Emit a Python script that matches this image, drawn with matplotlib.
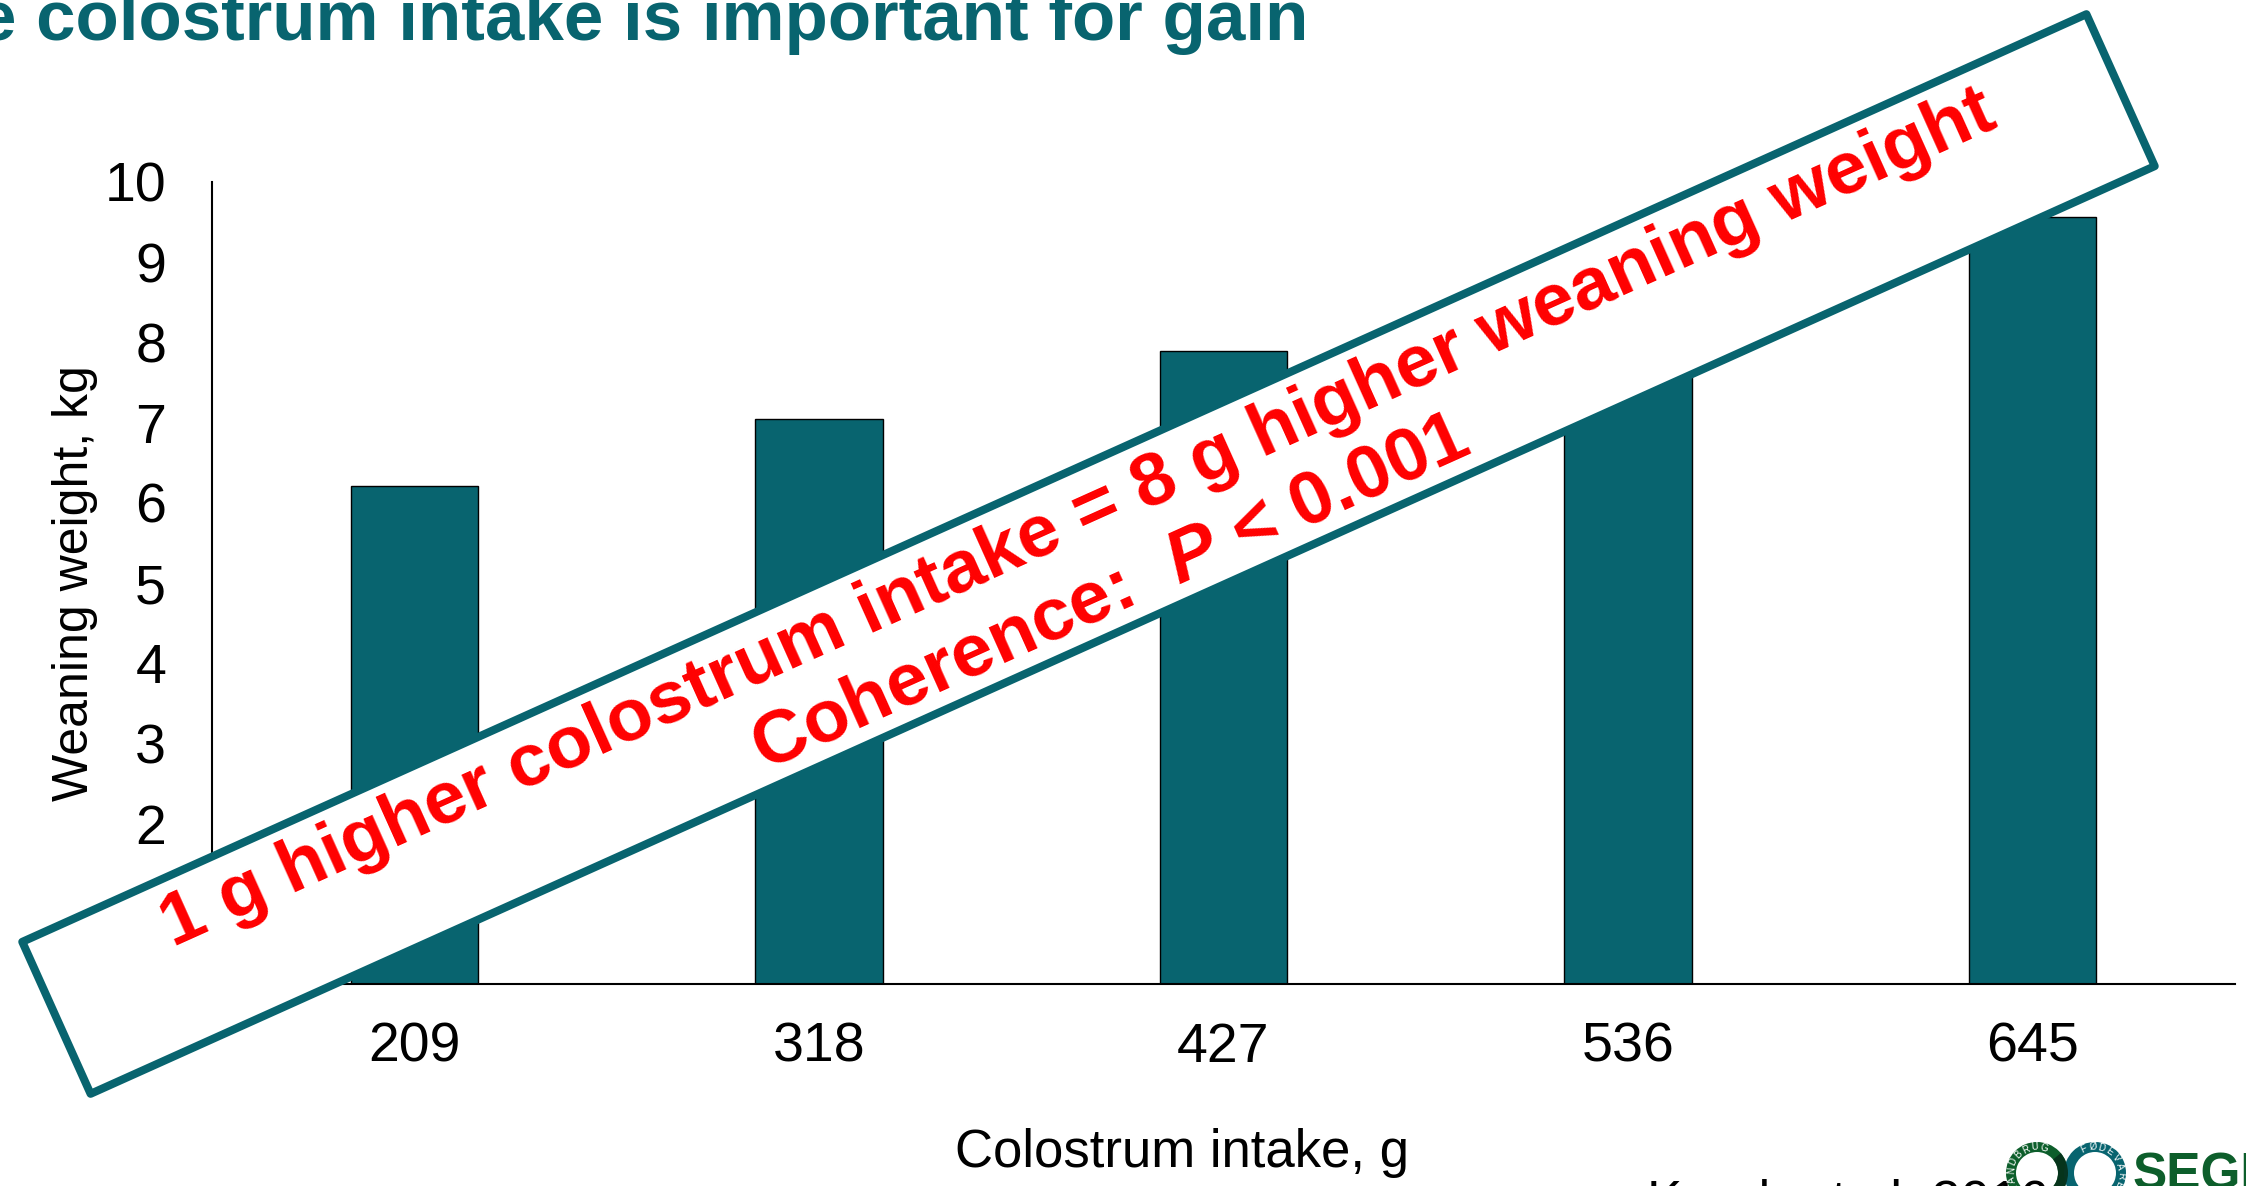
import numpy as np
import matplotlib
matplotlib.use("Agg")
import matplotlib.pyplot as plt
from matplotlib.patches import Polygon, Wedge

plt.rcParams['font.family'] = ['Liberation Sans', 'DejaVu Sans']
plt.rcParams['mathtext.fontset'] = 'custom'
plt.rcParams['mathtext.bfit'] = 'Liberation Sans:italic:bold'
plt.rcParams['mathtext.rm'] = 'Liberation Sans:bold'

# data
intake_labels = ["209", "318", "427", "536", "645"]
weaning_kg = [6.21, 7.05, 7.89, 8.72, 9.56]
y_ticks = list(range(0, 11))

teal = '#08646f'
W, H = 2246, 1186

fig = plt.figure(figsize=(W / 100, H / 100), dpi=100)
ax = fig.add_axes([212 / W, 1 - 984 / H, (2235 - 212) / W, (984 - 182) / H])
x = np.arange(len(intake_labels))
ax.bar(x, weaning_kg, width=0.315, color=teal, edgecolor='black', linewidth=1)
ax.set_xlim(-0.5, 4.5)
ax.set_ylim(0, 10)
ax.set_yticks(y_ticks)
ax.set_xticks(x)
ax.set_xticklabels(intake_labels)
for s in ['top', 'right']:
    ax.spines[s].set_visible(False)
for s in ['left', 'bottom']:
    ax.spines[s].set_linewidth(1.5)
ax.tick_params(axis='y', length=0, labelsize=40, pad=33)
ax.tick_params(axis='x', length=0, labelsize=40, pad=27)
ax.set_xlabel("Colostrum intake, g", fontsize=38, va='top')
ax.xaxis.set_label_coords((1182 - 212) / (2235 - 212), -0.180)
ax.set_ylabel("Weaning weight, kg", fontsize=36, va='center')
ax.yaxis.set_label_coords((75 - 212) / (2235 - 212), 0.5)

# overlay in pixel coordinates for the slide decorations
ov = fig.add_axes([0, 0, 1, 1], zorder=5)
ov.set_xlim(0, W)
ov.set_ylim(H, 0)
ov.axis('off')

ov.text(1308, 40, "e colostrum intake is important for gain", ha='right', va='baseline',
        fontsize=51, fontweight='bold', color=teal)

# rotated callout box
cx, cy, ang = 1088.5, 554, 24.2
u = np.array([np.cos(np.radians(ang)), -np.sin(np.radians(ang))])
n = np.array([np.sin(np.radians(ang)), np.cos(np.radians(ang))])
hl, hs = 1131.5, 83.3
c = np.array([cx, cy])
corners = [c - u * hl - n * hs, c + u * hl - n * hs, c + u * hl + n * hs, c - u * hl + n * hs]
ov.add_patch(Polygon(corners, closed=True, facecolor='white', edgecolor=teal, linewidth=5.8,
                     joinstyle='round'))
p1 = c + u * 5 - n * 36
p2 = c + u * 4 + n * 45
ov.text(p1[0], p1[1], "1 g higher colostrum intake = 8 g higher weaning weight", rotation=ang,
        rotation_mode='anchor', ha='center', va='center', fontsize=54, fontweight='bold', color='#ff0000')
ov.text(p2[0], p2[1], "Coherence:  $\\mathbfit{P}$ < 0.001", rotation=ang,
        rotation_mode='anchor', ha='center', va='center', fontsize=54, fontweight='bold', color='#ff0000')

# citation and logo at bottom right
ov.text(1647, 1218, "Krogh et al. 2016", ha='left', va='baseline', fontsize=38, color='black')
green = '#0d5e2b'
ov.add_patch(Wedge((2037, 1173), 31, 0, 360, width=10, facecolor=green, edgecolor='none'))
ov.add_patch(Wedge((2095, 1173), 31, 0, 360, width=10, facecolor=teal, edgecolor='none'))
ov.add_patch(Wedge((2037, 1173), 31, -40, 40, width=10, facecolor='#06301a', edgecolor='none', alpha=0.9))
for i, ch in enumerate("LANDBRUG"):
    a = 215 - i * 20
    px = 2037 + 26 * np.cos(np.radians(a))
    py = 1173 - 26 * np.sin(np.radians(a))
    ov.text(px, py, ch, fontsize=7, color='white', ha='center', va='center', rotation=a - 90)
for i, ch in enumerate("FØDEVARER"):
    a = 115 - i * 20
    px = 2095 + 26 * np.cos(np.radians(a))
    py = 1173 - 26 * np.sin(np.radians(a))
    ov.text(px, py, ch, fontsize=7, color='white', ha='center', va='center', rotation=a - 90)
ov.text(2133, 1190, "SEGES", ha='left', va='baseline', fontsize=37, fontweight='bold', color=green)

fig.savefig('out.png', dpi=100)
